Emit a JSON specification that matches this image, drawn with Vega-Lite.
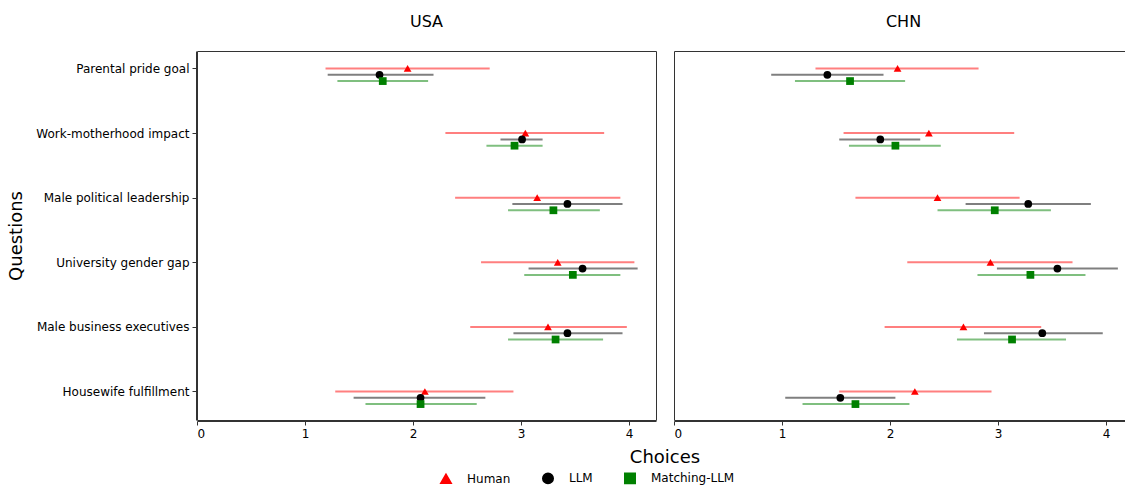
{
  "$schema": "https://vega.github.io/schema/vega-lite/v6.json",
  "background": "white",
  "padding": {"left": 7, "top": 14, "right": 0, "bottom": 0},
  "config": {
    "font": "DejaVu Sans",
    "view": {"stroke": "#333333", "strokeWidth": 1},
    "axis": {"grid": false, "domainColor": "#333333", "tickColor": "#333333", "labelColor": "#000000", "titleColor": "#000000", "labelFontSize": 12, "tickSize": 4, "labelPadding": 3, "titleFontWeight": "normal"},
    "legend": {"labelFontSize": 12, "labelColor": "#000000"}
  },
  "data": {"values": [
    {"country": "USA", "question": "Parental pride goal", "series": "Human", "mean": 1.95, "lo": 1.19, "hi": 2.71},
    {"country": "USA", "question": "Parental pride goal", "series": "LLM", "mean": 1.69, "lo": 1.21, "hi": 2.19},
    {"country": "USA", "question": "Parental pride goal", "series": "Matching-LLM", "mean": 1.72, "lo": 1.30, "hi": 2.14},
    {"country": "USA", "question": "Work-motherhood impact", "series": "Human", "mean": 3.04, "lo": 2.30, "hi": 3.77},
    {"country": "USA", "question": "Work-motherhood impact", "series": "LLM", "mean": 3.01, "lo": 2.81, "hi": 3.20},
    {"country": "USA", "question": "Work-motherhood impact", "series": "Matching-LLM", "mean": 2.94, "lo": 2.68, "hi": 3.20},
    {"country": "USA", "question": "Male political leadership", "series": "Human", "mean": 3.15, "lo": 2.39, "hi": 3.92},
    {"country": "USA", "question": "Male political leadership", "series": "LLM", "mean": 3.43, "lo": 2.92, "hi": 3.94},
    {"country": "USA", "question": "Male political leadership", "series": "Matching-LLM", "mean": 3.30, "lo": 2.88, "hi": 3.73},
    {"country": "USA", "question": "University gender gap", "series": "Human", "mean": 3.34, "lo": 2.63, "hi": 4.05},
    {"country": "USA", "question": "University gender gap", "series": "LLM", "mean": 3.57, "lo": 3.07, "hi": 4.08},
    {"country": "USA", "question": "University gender gap", "series": "Matching-LLM", "mean": 3.48, "lo": 3.03, "hi": 3.92},
    {"country": "USA", "question": "Male business executives", "series": "Human", "mean": 3.25, "lo": 2.53, "hi": 3.98},
    {"country": "USA", "question": "Male business executives", "series": "LLM", "mean": 3.43, "lo": 2.93, "hi": 3.94},
    {"country": "USA", "question": "Male business executives", "series": "Matching-LLM", "mean": 3.32, "lo": 2.88, "hi": 3.76},
    {"country": "USA", "question": "Housewife fulfillment", "series": "Human", "mean": 2.11, "lo": 1.28, "hi": 2.93},
    {"country": "USA", "question": "Housewife fulfillment", "series": "LLM", "mean": 2.07, "lo": 1.45, "hi": 2.67},
    {"country": "USA", "question": "Housewife fulfillment", "series": "Matching-LLM", "mean": 2.07, "lo": 1.56, "hi": 2.59},
    {"country": "CHN", "question": "Parental pride goal", "series": "Human", "mean": 2.07, "lo": 1.31, "hi": 2.82},
    {"country": "CHN", "question": "Parental pride goal", "series": "LLM", "mean": 1.42, "lo": 0.90, "hi": 1.94},
    {"country": "CHN", "question": "Parental pride goal", "series": "Matching-LLM", "mean": 1.63, "lo": 1.12, "hi": 2.14},
    {"country": "CHN", "question": "Work-motherhood impact", "series": "Human", "mean": 2.36, "lo": 1.57, "hi": 3.15},
    {"country": "CHN", "question": "Work-motherhood impact", "series": "LLM", "mean": 1.91, "lo": 1.53, "hi": 2.28},
    {"country": "CHN", "question": "Work-motherhood impact", "series": "Matching-LLM", "mean": 2.05, "lo": 1.62, "hi": 2.47},
    {"country": "CHN", "question": "Male political leadership", "series": "Human", "mean": 2.44, "lo": 1.68, "hi": 3.20},
    {"country": "CHN", "question": "Male political leadership", "series": "LLM", "mean": 3.28, "lo": 2.70, "hi": 3.86},
    {"country": "CHN", "question": "Male political leadership", "series": "Matching-LLM", "mean": 2.97, "lo": 2.44, "hi": 3.49},
    {"country": "CHN", "question": "University gender gap", "series": "Human", "mean": 2.93, "lo": 2.16, "hi": 3.69},
    {"country": "CHN", "question": "University gender gap", "series": "LLM", "mean": 3.55, "lo": 2.99, "hi": 4.11},
    {"country": "CHN", "question": "University gender gap", "series": "Matching-LLM", "mean": 3.30, "lo": 2.81, "hi": 3.81},
    {"country": "CHN", "question": "Male business executives", "series": "Human", "mean": 2.68, "lo": 1.95, "hi": 3.40},
    {"country": "CHN", "question": "Male business executives", "series": "LLM", "mean": 3.41, "lo": 2.87, "hi": 3.97},
    {"country": "CHN", "question": "Male business executives", "series": "Matching-LLM", "mean": 3.13, "lo": 2.62, "hi": 3.63},
    {"country": "CHN", "question": "Housewife fulfillment", "series": "Human", "mean": 2.23, "lo": 1.53, "hi": 2.94},
    {"country": "CHN", "question": "Housewife fulfillment", "series": "LLM", "mean": 1.54, "lo": 1.03, "hi": 2.05},
    {"country": "CHN", "question": "Housewife fulfillment", "series": "Matching-LLM", "mean": 1.68, "lo": 1.19, "hi": 2.18}
  ]},
  "facet": {
    "column": {
      "field": "country",
      "type": "nominal",
      "sort": ["USA", "CHN"],
      "title": "Choices",
      "header": {
        "labelOrient": "top",
        "titleOrient": "bottom",
        "labelFontSize": 16,
        "labelColor": "#000000",
        "labelPadding": 20,
        "titleFontSize": 18,
        "titleFontWeight": "normal",
        "titleColor": "#000000",
        "titlePadding": 0
      }
    }
  },
  "spacing": 16,
  "spec": {
    "width": 459,
    "height": 369,
    "encoding": {
      "y": {
        "field": "question",
        "type": "nominal",
        "sort": ["Parental pride goal", "Work-motherhood impact", "Male political leadership", "University gender gap", "Male business executives", "Housewife fulfillment"],
        "scale": {"type": "point", "padding": 0.356, "align": 0.38},
        "axis": {"title": "Questions", "titleFontSize": 18, "titlePadding": 10}
      },
      "yOffset": {
        "field": "series",
        "type": "nominal",
        "scale": {"type": "point", "domain": ["Human", "LLM", "Matching-LLM"], "range": [0, 12.6], "padding": 0}
      }
    },
    "layer": [
      {
        "mark": {"type": "rule", "strokeWidth": 2, "opacity": 0.5},
        "encoding": {
          "x": {"field": "lo", "type": "quantitative", "scale": {"domain": [0, 4.25], "nice": false, "zero": false}, "axis": {"values": [0, 1, 2, 3, 4], "format": "d", "title": null}},
          "x2": {"field": "hi"},
          "color": {"field": "series", "type": "nominal", "scale": {"domain": ["Human", "LLM", "Matching-LLM"], "range": ["#ff0000", "#000000", "#008000"]}, "legend": {"title": null, "orient": "none", "legendX": 243, "legendY": 421, "direction": "horizontal", "symbolSize": 110, "columnPadding": 28, "labelOffset": 15, "symbolOpacity": 1}}
        }
      },
      {
        "mark": {"type": "point", "filled": true, "opacity": 1, "size": 60},
        "encoding": {
          "x": {"field": "mean", "type": "quantitative"},
          "color": {"field": "series", "type": "nominal", "legend": {"title": null, "orient": "none", "legendX": 243, "legendY": 421, "direction": "horizontal", "symbolSize": 110, "columnPadding": 28, "labelOffset": 15, "symbolOpacity": 1}},
          "shape": {"field": "series", "type": "nominal", "scale": {"domain": ["Human", "LLM", "Matching-LLM"], "range": ["triangle-up", "circle", "square"]}, "legend": {"title": null, "orient": "none", "legendX": 243, "legendY": 421, "direction": "horizontal", "symbolSize": 110, "columnPadding": 28, "labelOffset": 15, "symbolOpacity": 1}}
        }
      }
    ]
  }
}
